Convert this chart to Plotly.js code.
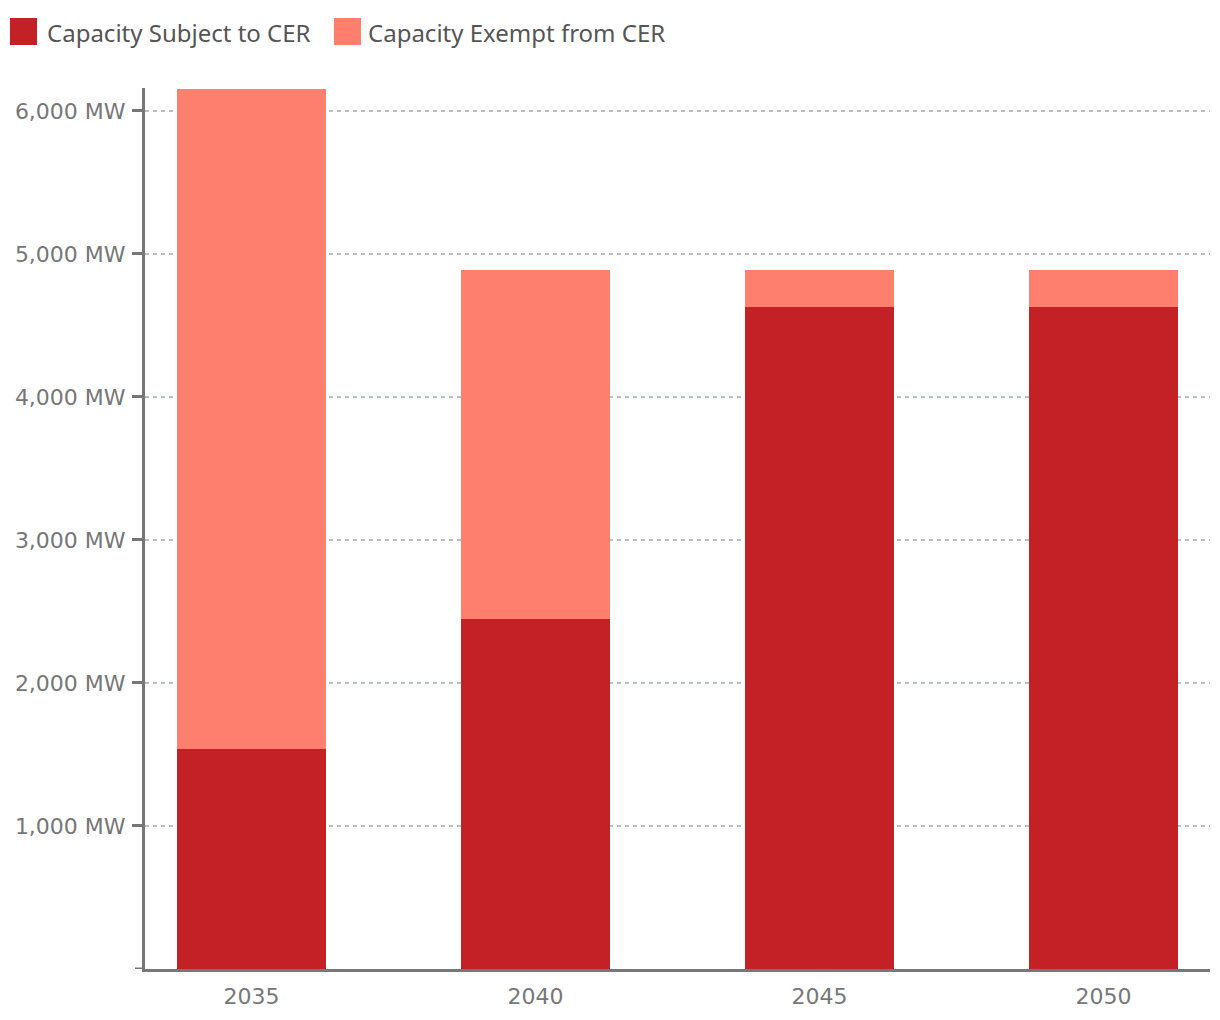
<!DOCTYPE html>
<html>
<head>
<meta charset="utf-8">
<script src="https://cdn.plot.ly/plotly-3.0.1.min.js"></script>
<style>html,body{margin:0;padding:0;background:#fff;}#chart{width:1220px;height:1020px;}</style>
</head>
<body>
<div id="chart"></div>
<script>
const years = ['2035', '2040', '2045', '2050'];
const subjectToCER = [1540, 2450, 4630, 4630];
const exemptFromCER = [4610, 2440, 260, 260];
const seriesNames = ['Capacity Subject to CER', 'Capacity Exempt from CER'];
const seriesColors = ['#C42127', '#FF7F6E'];
const tickValues = [1000, 2000, 3000, 4000, 5000, 6000];
const tickLabels = ['1,000 MW', '2,000 MW', '3,000 MW', '4,000 MW', '5,000 MW', '6,000 MW'];

const traces = [
  {type: 'bar', name: seriesNames[0], x: years, y: subjectToCER,
   marker: {color: seriesColors[0]}, width: 0.525, hoverinfo: 'x+y'},
  {type: 'bar', name: seriesNames[1], x: years, y: exemptFromCER,
   marker: {color: seriesColors[1]}, width: 0.525, hoverinfo: 'x+y'}
];

// Legend drawn at the top-left (large square swatches + labels)
const plotW = 1065, plotH = 881, plotL = 145, plotB = 969;
const px = v => (v - plotL) / plotW;
const py = v => (plotB - v) / plotH;
const legendItems = [
  {sw0: 10, sw1: 37, tx: 45},
  {sw0: 334, sw1: 361, tx: 366}
];
const legendShapes = legendItems.map((it, i) => ({
  type: 'rect', xref: 'paper', yref: 'paper',
  x0: px(it.sw0), x1: px(it.sw1), y0: py(45), y1: py(18),
  fillcolor: seriesColors[i], line: {width: 0}
}));
const legendAnn = legendItems.map((it, i) => ({
  xref: 'paper', yref: 'paper', x: px(it.tx), y: py(32),
  xanchor: 'left', yanchor: 'middle', showarrow: false,
  text: seriesNames[i],
  font: {family: '"Noto Sans", sans-serif', size: 24, color: '#555'}
}));

const tickFont = {family: '"DejaVu Sans", sans-serif', size: 22, color: '#777'};

const layout = {
  width: 1220, height: 1020,
  margin: {l: 145, r: 10, t: 88, b: 51},
  barmode: 'stack',
  paper_bgcolor: '#fff', plot_bgcolor: '#fff',
  font: {family: '"DejaVu Sans", sans-serif', color: '#777'},
  showlegend: false,
  xaxis: {type: 'category', range: [-0.375, 3.375], showline: true, linecolor: '#777', linewidth: 3,
          ticks: '', showgrid: false, zeroline: false, ticklabelstandoff: 6,
          tickfont: tickFont},
  yaxis: {range: [0, 6160], showline: true, linecolor: '#777', linewidth: 3,
          ticks: 'outside', ticklen: 10, tickwidth: 3, tickcolor: '#777',
          tickvals: tickValues, ticktext: tickLabels, ticklabelstandoff: 2,
          tickfont: tickFont,
          showgrid: true, gridcolor: '#b5c1c6', gridwidth: 2, griddash: '4px,4px',
          zeroline: false},
  shapes: [
    {type: 'line', xref: 'paper', yref: 'y', x0: -0.0094, x1: 0, y0: 0, y1: 0,
     line: {color: '#777', width: 3}}
  ].concat(legendShapes),
  annotations: legendAnn
};

Plotly.newPlot('chart', traces, layout, {displayModeBar: false, staticPlot: true});
</script>
</body>
</html>
